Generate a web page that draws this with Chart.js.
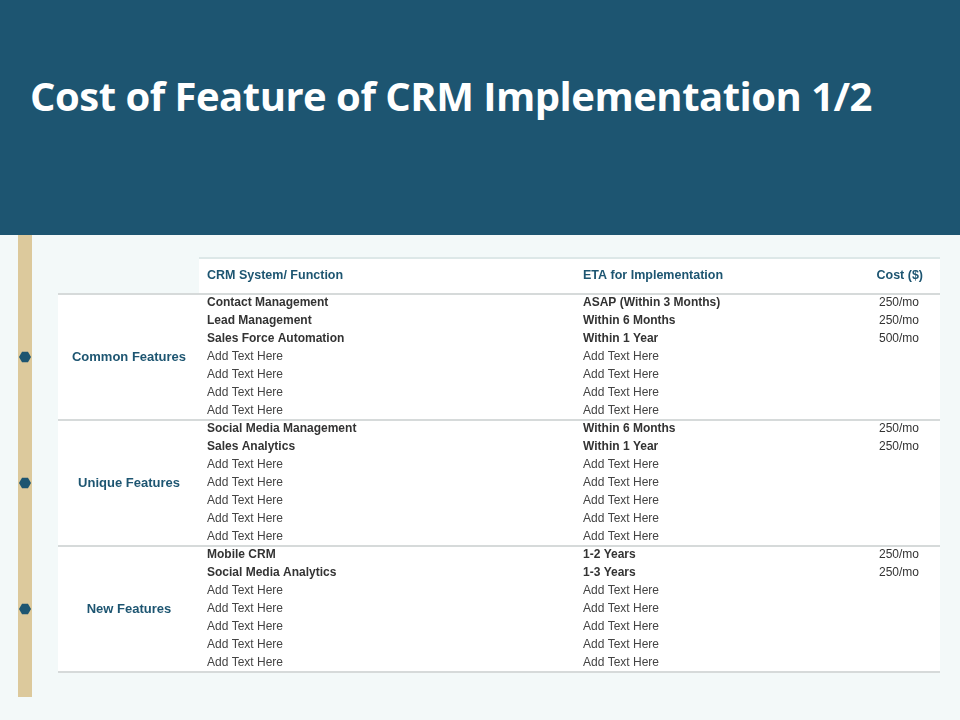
<!DOCTYPE html>
<html><head><meta charset="utf-8">
<script src="https://cdn.jsdelivr.net/npm/chart.js@4"></script>
<style>
body{margin:0;background:#f3f9f9;font-family:"Liberation Sans",Arial,sans-serif}
#band{position:absolute;left:0;top:0;width:960px;height:235px;background:#1d5571}
h1{position:absolute;left:30px;top:68px;margin:0;color:#fff;font:bold 40px "Open Sans",sans-serif;letter-spacing:-0.5px}
canvas{position:absolute;left:0;top:0}
</style></head><body>
<div id="band"></div>
<h1>Cost of Feature of CRM Implementation 1/2</h1>
<canvas id="canvas" width="960" height="720"></canvas>
<script>
const headers = ['CRM System/ Function', 'ETA for Implementation', 'Cost ($)'];
const groups = ['Common Features', 'Unique Features', 'New Features'];
const groupSize = [7, 7, 7];
const functions = ['Contact Management','Lead Management','Sales Force Automation','Add Text Here','Add Text Here','Add Text Here','Add Text Here',
  'Social Media Management','Sales Analytics','Add Text Here','Add Text Here','Add Text Here','Add Text Here','Add Text Here',
  'Mobile CRM','Social Media Analytics','Add Text Here','Add Text Here','Add Text Here','Add Text Here','Add Text Here'];
const etas = ['ASAP (Within 3 Months)','Within 6 Months','Within 1 Year','Add Text Here','Add Text Here','Add Text Here','Add Text Here',
  'Within 6 Months','Within 1 Year','Add Text Here','Add Text Here','Add Text Here','Add Text Here','Add Text Here',
  '1-2 Years','1-3 Years','Add Text Here','Add Text Here','Add Text Here','Add Text Here','Add Text Here'];
const costs = ['250/mo','250/mo','500/mo','','','','','250/mo','250/mo','','','','','','250/mo','250/mo','','','','',''];
const rows = functions.map((f, i) => String(i));

const tablePlugin = {
  id: 'table',
  beforeDraw(chart) {
    const ctx = chart.ctx, a = chart.chartArea, y = chart.scales.y, x = chart.scales.x;
    ctx.save();
    // tan side bar
    ctx.fillStyle = '#dcc99c';
    ctx.fillRect(18, 235, 14, 462);
    // white panel
    ctx.fillStyle = '#fff';
    ctx.fillRect(a.left, a.top - 36, a.right - a.left, a.bottom - a.top + 36);
    ctx.fillStyle = '#f3f9f9';
    ctx.fillRect(a.left, a.top - 36, 141, 36);
    ctx.strokeStyle = '#dde8e8'; ctx.lineWidth = 2;
    ctx.beginPath(); ctx.moveTo(x.getPixelForValue(141), a.top - 36); ctx.lineTo(a.right, a.top - 36); ctx.stroke();
    ctx.strokeStyle = '#d6dada';
    ctx.beginPath(); ctx.moveTo(a.left, a.top); ctx.lineTo(a.right, a.top); ctx.stroke();
    ctx.textBaseline = 'middle';
    ctx.fillStyle = '#1d5571';
    ctx.font = 'bold 12.5px "Liberation Sans", Arial';
    ctx.textAlign = 'left';
    ctx.fillText(headers[0], x.getPixelForValue(149), a.top - 18);
    ctx.fillText(headers[1], x.getPixelForValue(525), a.top - 18);
    ctx.textAlign = 'right';
    ctx.fillText(headers[2], x.getPixelForValue(865), a.top - 18);
    let start = 0;
    groups.forEach((g, gi) => {
      const end = start + groupSize[gi] - 1;
      const mid = (y.getPixelForValue(start) + y.getPixelForValue(end)) / 2;
      ctx.fillStyle = '#1d5571';
      ctx.font = 'bold 13px "Liberation Sans", Arial';
      ctx.textAlign = 'center';
      ctx.fillText(g, x.getPixelForValue(71), mid);
      // hexagon marker
      ctx.beginPath();
      for (let k = 0; k < 6; k++) {
        const ang = Math.PI / 3 * k;
        ctx.lineTo(25 + 6 * Math.cos(ang), mid + 6 * Math.sin(ang));
      }
      ctx.closePath(); ctx.fill();
      const by = y.getPixelForValue(end) + 9;
      ctx.strokeStyle = '#d6dada'; ctx.lineWidth = 2;
      ctx.beginPath(); ctx.moveTo(a.left, by); ctx.lineTo(a.right, by); ctx.stroke();
      start += groupSize[gi];
    });
    rows.forEach((r, i) => {
      const py = y.getPixelForValue(i);
      const bold = functions[i] !== 'Add Text Here';
      ctx.font = (bold ? 'bold ' : '') + '12px "Liberation Sans", Arial';
      ctx.fillStyle = bold ? '#333' : '#444';
      ctx.textAlign = 'left';
      ctx.fillText(functions[i], x.getPixelForValue(149), py);
      ctx.font = (etas[i] !== 'Add Text Here' ? 'bold ' : '') + '12px "Liberation Sans", Arial';
      ctx.fillText(etas[i], x.getPixelForValue(525), py);
      ctx.font = '12px "Liberation Sans", Arial';
      ctx.textAlign = 'right';
      ctx.fillText(costs[i], x.getPixelForValue(861), py);
    });
    ctx.restore();
  }
};

const chart = new Chart(document.getElementById('canvas'), {
  type: 'scatter',
  data: { labels: rows, datasets: [{ data: [] }] },
  options: {
    responsive: false, animation: false,
    layout: { padding: { left: 58, right: 20, top: 294, bottom: 48 } },
    plugins: { legend: { display: false }, tooltip: { enabled: false } },
    scales: {
      x: { type: 'linear', min: 0, max: 882, display: false },
      y: { type: 'category', labels: rows, offset: true, display: false }
    }
  },
  plugins: [tablePlugin]
});
</script>
</body></html>
